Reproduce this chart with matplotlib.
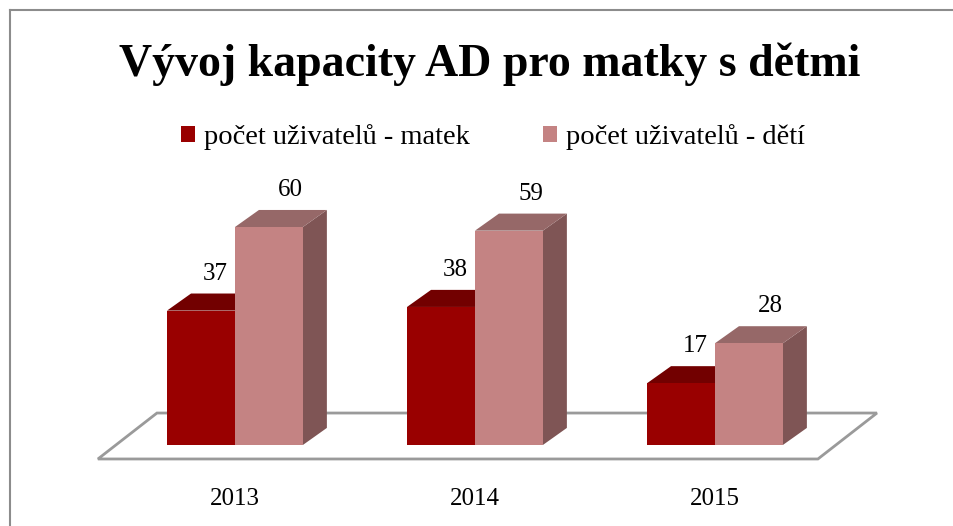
import matplotlib.pyplot as plt
from matplotlib.patches import Polygon, Patch
from matplotlib.lines import Line2D

# data
years = ['2013', '2014', '2015']
matky = [37, 38, 17]
deti = [60, 59, 28]
series_names = ['počet uživatelů - matek', 'počet uživatelů - dětí']

# colours: front, top, side
col_matky = ('#990000', '#720000', '#7a0000')
col_deti = ('#C48383', '#966868', '#7F5555')

plt.rcParams['font.family'] = ['Liberation Serif', 'DejaVu Serif']

fig = plt.figure(figsize=(9.54, 5.26), dpi=100)
ax = fig.add_axes([0, 0, 1, 1])
ax.set_xlim(-0.979, 2.996)
ax.set_ylim(-22.3, 122.5)
ax.axis('off')

bw = 0.283     # bar width (group units)
ddx = 0.10     # depth offset x
ddy = 4.7      # depth offset y (value units)

# floor
n = len(years)
floor = Polygon([(-0.571, -3.85), (-0.325, 8.8), (n - 0.325, 8.8), (n - 0.571, -3.85)],
                closed=True, facecolor='white', edgecolor='#9a9a9a', lw=2, zorder=1)
ax.add_patch(floor)


def bar3d(x0, h, cols):
    front, top, side = cols
    ax.add_patch(Polygon([(x0 + bw, 0), (x0 + bw + ddx, ddy), (x0 + bw + ddx, h + ddy), (x0 + bw, h)],
                         closed=True, facecolor=side, edgecolor='none', zorder=2))
    ax.add_patch(Polygon([(x0, h), (x0 + ddx, h + ddy), (x0 + bw + ddx, h + ddy), (x0 + bw, h)],
                         closed=True, facecolor=top, edgecolor='none', zorder=2))
    ax.add_patch(Polygon([(x0, 0), (x0, h), (x0 + bw, h), (x0 + bw, 0)],
                         closed=True, facecolor=front, edgecolor='none', zorder=2))


for i, year in enumerate(years):
    bar3d(i - bw, matky[i], col_matky)
    bar3d(i, deti[i], col_deti)
    ax.text(i - bw / 2 + 0.06, matky[i] + ddy + 5.5, str(matky[i]), ha='center', va='center', fontsize=18)
    ax.text(i + bw / 2 + 0.09, deti[i] + ddy + 5.5, str(deti[i]), ha='center', va='center', fontsize=18)
    ax.text(i, -14.8, year, ha='center', va='center', fontsize=18)

fig.text(0.513, 0.878, 'Vývoj kapacity AD pro matky s dětmi', ha='center', va='center',
         fontsize=33, fontweight='bold')

handles = [Patch(facecolor=col_matky[0]), Patch(facecolor=col_deti[0])]
fig.legend(handles, series_names, loc='center', bbox_to_anchor=(0.517, 0.74), ncol=2,
           frameon=False, fontsize=20.5, handlelength=0.5, handleheight=0.5,
           handletextpad=0.32, columnspacing=2.55)

# chart frame (left and top)
fig.add_artist(Line2D([10 / 954, 10 / 954], [0, 1 - 10 / 526], color='#8c8c8c', lw=1.5))
fig.add_artist(Line2D([10 / 954, 1], [1 - 10 / 526, 1 - 10 / 526], color='#8c8c8c', lw=1.5))

fig.savefig('out.png', dpi=100)
